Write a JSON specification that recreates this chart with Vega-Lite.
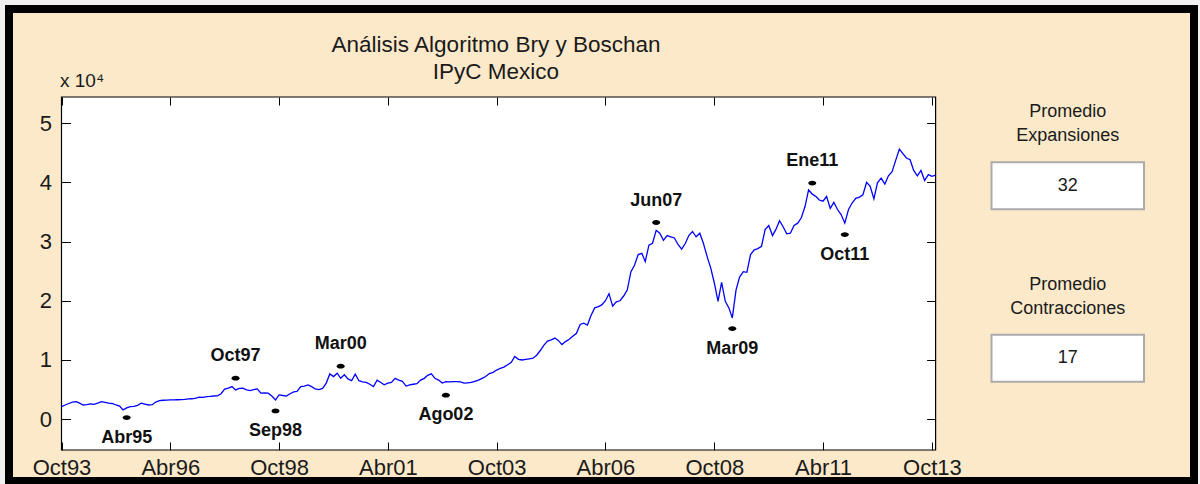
{
  "$schema": "https://vega.github.io/schema/vega-lite/v6.json",
  "width": 1185,
  "height": 472,
  "autosize": {"type": "none"},
  "padding": {"left": 9, "top": 9, "right": 6, "bottom": 3},
  "background": "#F0F0F0",
  "config": {
    "view": {"fill": "#FBE9CA", "stroke": "#000000", "strokeWidth": 8},
    "font": "Liberation Sans"
  },
  "title": {
    "text": ["Análisis Algoritmo Bry y Boschan", "IPyC Mexico"],
    "anchor": "middle",
    "frame": "group",
    "dx": -105.5,
    "dy": 74,
    "offset": 0,
    "baseline": "top",
    "font": "Liberation Sans",
    "fontSize": 22.5,
    "fontWeight": "normal",
    "color": "#1A1A1A",
    "lineHeight": 27
  },
  "datasets": {
    "ipc": [
      {"fecha":"1993-10","ipc":2130},{"fecha":"1993-11","ipc":2400},{"fecha":"1993-12","ipc":2650},
      {"fecha":"1994-01","ipc":2900},{"fecha":"1994-02","ipc":2970},{"fecha":"1994-03","ipc":2700},{"fecha":"1994-04","ipc":2400},{"fecha":"1994-05","ipc":2450},{"fecha":"1994-06","ipc":2580},{"fecha":"1994-07","ipc":2500},{"fecha":"1994-08","ipc":2700},{"fecha":"1994-09","ipc":2970},{"fecha":"1994-10","ipc":2850},{"fecha":"1994-11","ipc":2700},{"fecha":"1994-12","ipc":2650},
      {"fecha":"1995-01","ipc":2400},{"fecha":"1995-02","ipc":2200},{"fecha":"1995-03","ipc":1570},{"fecha":"1995-04","ipc":1900},{"fecha":"1995-05","ipc":2130},{"fecha":"1995-06","ipc":2150},{"fecha":"1995-07","ipc":2350},{"fecha":"1995-08","ipc":2700},{"fecha":"1995-09","ipc":2550},{"fecha":"1995-10","ipc":2400},{"fecha":"1995-11","ipc":2450},{"fecha":"1995-12","ipc":2900},
      {"fecha":"1996-01","ipc":3140},{"fecha":"1996-02","ipc":3200},{"fecha":"1996-03","ipc":3220},{"fecha":"1996-04","ipc":3250},{"fecha":"1996-05","ipc":3260},{"fecha":"1996-06","ipc":3280},{"fecha":"1996-07","ipc":3300},{"fecha":"1996-08","ipc":3350},{"fecha":"1996-09","ipc":3430},{"fecha":"1996-10","ipc":3450},{"fecha":"1996-11","ipc":3550},{"fecha":"1996-12","ipc":3720},
      {"fecha":"1997-01","ipc":3700},{"fecha":"1997-02","ipc":3800},{"fecha":"1997-03","ipc":3850},{"fecha":"1997-04","ipc":3920},{"fecha":"1997-05","ipc":3940},{"fecha":"1997-06","ipc":4300},{"fecha":"1997-07","ipc":5100},{"fecha":"1997-08","ipc":5240},{"fecha":"1997-09","ipc":5510},{"fecha":"1997-10","ipc":4950},{"fecha":"1997-11","ipc":5200},{"fecha":"1997-12","ipc":5240},
      {"fecha":"1998-01","ipc":4950},{"fecha":"1998-02","ipc":4830},{"fecha":"1998-03","ipc":5000},{"fecha":"1998-04","ipc":5120},{"fecha":"1998-05","ipc":4400},{"fecha":"1998-06","ipc":4450},{"fecha":"1998-07","ipc":4400},{"fecha":"1998-08","ipc":3900},{"fecha":"1998-09","ipc":3260},{"fecha":"1998-10","ipc":4100},{"fecha":"1998-11","ipc":4000},{"fecha":"1998-12","ipc":3900},
      {"fecha":"1999-01","ipc":4300},{"fecha":"1999-02","ipc":4600},{"fecha":"1999-03","ipc":4700},{"fecha":"1999-04","ipc":5500},{"fecha":"1999-05","ipc":5600},{"fecha":"1999-06","ipc":5800},{"fecha":"1999-07","ipc":5500},{"fecha":"1999-08","ipc":5100},{"fecha":"1999-09","ipc":5000},{"fecha":"1999-10","ipc":5200},{"fecha":"1999-11","ipc":6100},{"fecha":"1999-12","ipc":7650},
      {"fecha":"2000-01","ipc":7200},{"fecha":"2000-02","ipc":7770},{"fecha":"2000-03","ipc":6900},{"fecha":"2000-04","ipc":7500},{"fecha":"2000-05","ipc":6800},{"fecha":"2000-06","ipc":6500},{"fecha":"2000-07","ipc":7600},{"fecha":"2000-08","ipc":6500},{"fecha":"2000-09","ipc":6300},{"fecha":"2000-10","ipc":6200},{"fecha":"2000-11","ipc":5900},{"fecha":"2000-12","ipc":5500},
      {"fecha":"2001-01","ipc":6600},{"fecha":"2001-02","ipc":6200},{"fecha":"2001-03","ipc":5800},{"fecha":"2001-04","ipc":6100},{"fecha":"2001-05","ipc":6200},{"fecha":"2001-06","ipc":6900},{"fecha":"2001-07","ipc":6600},{"fecha":"2001-08","ipc":6400},{"fecha":"2001-09","ipc":5600},{"fecha":"2001-10","ipc":5800},{"fecha":"2001-11","ipc":5900},{"fecha":"2001-12","ipc":6000},
      {"fecha":"2002-01","ipc":6600},{"fecha":"2002-02","ipc":6900},{"fecha":"2002-03","ipc":7400},{"fecha":"2002-04","ipc":7650},{"fecha":"2002-05","ipc":6900},{"fecha":"2002-06","ipc":6600},{"fecha":"2002-07","ipc":6100},{"fecha":"2002-08","ipc":6350},{"fecha":"2002-09","ipc":6300},{"fecha":"2002-10","ipc":6350},{"fecha":"2002-11","ipc":6350},{"fecha":"2002-12","ipc":6300},
      {"fecha":"2003-01","ipc":6100},{"fecha":"2003-02","ipc":6150},{"fecha":"2003-03","ipc":6200},{"fecha":"2003-04","ipc":6400},{"fecha":"2003-05","ipc":6600},{"fecha":"2003-06","ipc":6900},{"fecha":"2003-07","ipc":7200},{"fecha":"2003-08","ipc":7700},{"fecha":"2003-09","ipc":7900},{"fecha":"2003-10","ipc":8300},{"fecha":"2003-11","ipc":8600},{"fecha":"2003-12","ipc":8800},
      {"fecha":"2004-01","ipc":9200},{"fecha":"2004-02","ipc":9600},{"fecha":"2004-03","ipc":10600},{"fecha":"2004-04","ipc":10100},{"fecha":"2004-05","ipc":10000},{"fecha":"2004-06","ipc":10100},{"fecha":"2004-07","ipc":10200},{"fecha":"2004-08","ipc":10300},{"fecha":"2004-09","ipc":10800},{"fecha":"2004-10","ipc":11600},{"fecha":"2004-11","ipc":12500},{"fecha":"2004-12","ipc":13200},
      {"fecha":"2005-01","ipc":13400},{"fecha":"2005-02","ipc":13700},{"fecha":"2005-03","ipc":13300},{"fecha":"2005-04","ipc":12600},{"fecha":"2005-05","ipc":13100},{"fecha":"2005-06","ipc":13500},{"fecha":"2005-07","ipc":14000},{"fecha":"2005-08","ipc":14500},{"fecha":"2005-09","ipc":16000},{"fecha":"2005-10","ipc":16200},{"fecha":"2005-11","ipc":15900},{"fecha":"2005-12","ipc":17500},
      {"fecha":"2006-01","ipc":18800},{"fecha":"2006-02","ipc":19000},{"fecha":"2006-03","ipc":19300},{"fecha":"2006-04","ipc":20000},{"fecha":"2006-05","ipc":21200},{"fecha":"2006-06","ipc":19100},{"fecha":"2006-07","ipc":19800},{"fecha":"2006-08","ipc":20000},{"fecha":"2006-09","ipc":20800},{"fecha":"2006-10","ipc":21800},{"fecha":"2006-11","ipc":24900},{"fecha":"2006-12","ipc":26000},
      {"fecha":"2007-01","ipc":27800},{"fecha":"2007-02","ipc":28000},{"fecha":"2007-03","ipc":26600},{"fecha":"2007-04","ipc":29400},{"fecha":"2007-05","ipc":29700},{"fecha":"2007-06","ipc":31900},{"fecha":"2007-07","ipc":31400},{"fecha":"2007-08","ipc":30200},{"fecha":"2007-09","ipc":31000},{"fecha":"2007-10","ipc":30800},{"fecha":"2007-11","ipc":30600},{"fecha":"2007-12","ipc":29500},
      {"fecha":"2008-01","ipc":28700},{"fecha":"2008-02","ipc":29700},{"fecha":"2008-03","ipc":31000},{"fecha":"2008-04","ipc":31700},{"fecha":"2008-05","ipc":30800},{"fecha":"2008-06","ipc":31400},{"fecha":"2008-07","ipc":29700},{"fecha":"2008-08","ipc":27500},{"fecha":"2008-09","ipc":25500},{"fecha":"2008-10","ipc":23000},{"fecha":"2008-11","ipc":19900},{"fecha":"2008-12","ipc":23100},
      {"fecha":"2009-01","ipc":19900},{"fecha":"2009-02","ipc":18750},{"fecha":"2009-03","ipc":17100},{"fecha":"2009-04","ipc":21800},{"fecha":"2009-05","ipc":24000},{"fecha":"2009-06","ipc":24900},{"fecha":"2009-07","ipc":24800},{"fecha":"2009-08","ipc":27800},{"fecha":"2009-09","ipc":28600},{"fecha":"2009-10","ipc":28800},{"fecha":"2009-11","ipc":29200},{"fecha":"2009-12","ipc":32000},
      {"fecha":"2010-01","ipc":32700},{"fecha":"2010-02","ipc":31000},{"fecha":"2010-03","ipc":32000},{"fecha":"2010-04","ipc":33500},{"fecha":"2010-05","ipc":32500},{"fecha":"2010-06","ipc":31300},{"fecha":"2010-07","ipc":31400},{"fecha":"2010-08","ipc":32700},{"fecha":"2010-09","ipc":33100},{"fecha":"2010-10","ipc":34000},{"fecha":"2010-11","ipc":35900},{"fecha":"2010-12","ipc":38700},
      {"fecha":"2011-01","ipc":38000},{"fecha":"2011-02","ipc":37600},{"fecha":"2011-03","ipc":37000},{"fecha":"2011-04","ipc":36800},{"fecha":"2011-05","ipc":37600},{"fecha":"2011-06","ipc":35600},{"fecha":"2011-07","ipc":36600},{"fecha":"2011-08","ipc":35400},{"fecha":"2011-09","ipc":34500},{"fecha":"2011-10","ipc":33100},{"fecha":"2011-11","ipc":35400},{"fecha":"2011-12","ipc":36500},
      {"fecha":"2012-01","ipc":37300},{"fecha":"2012-02","ipc":37500},{"fecha":"2012-03","ipc":37900},{"fecha":"2012-04","ipc":40000},{"fecha":"2012-05","ipc":39300},{"fecha":"2012-06","ipc":37200},{"fecha":"2012-07","ipc":39900},{"fecha":"2012-08","ipc":40700},{"fecha":"2012-09","ipc":39700},{"fecha":"2012-10","ipc":41100},{"fecha":"2012-11","ipc":41800},{"fecha":"2012-12","ipc":43700},
      {"fecha":"2013-01","ipc":45600},{"fecha":"2013-02","ipc":44800},{"fecha":"2013-03","ipc":44100},{"fecha":"2013-04","ipc":43800},{"fecha":"2013-05","ipc":42000},{"fecha":"2013-06","ipc":41100},{"fecha":"2013-07","ipc":42000},{"fecha":"2013-08","ipc":40300},{"fecha":"2013-09","ipc":41300},{"fecha":"2013-10","ipc":41000},{"fecha":"2013-11","ipc":41200}
    ],
    "puntos": [
      {"fecha":"1995-04","etiqueta":"Abr95","tipo":"valle","y":270},
      {"fecha":"1997-10","etiqueta":"Oct97","tipo":"pico","y":6930},
      {"fecha":"1998-09","etiqueta":"Sep98","tipo":"valle","y":1400},
      {"fecha":"2000-03","etiqueta":"Mar00","tipo":"pico","y":8950},
      {"fecha":"2002-08","etiqueta":"Ago02","tipo":"valle","y":4050},
      {"fecha":"2007-06","etiqueta":"Jun07","tipo":"pico","y":33210},
      {"fecha":"2009-03","etiqueta":"Mar09","tipo":"valle","y":15300},
      {"fecha":"2011-01","etiqueta":"Ene11","tipo":"pico","y":39860},
      {"fecha":"2011-10","etiqueta":"Oct11","tipo":"valle","y":31180}
    ],
    "panel": [
      {"titulo":"Promedio Expansiones","valor":"32","orden":1},
      {"titulo":"Promedio Contracciones","valor":"17","orden":2}
    ]
  },
  "layer": [
    {
      "layer": [
        {
          "data": {"values": [{}]},
          "mark": {"type": "rect", "fill": "#FFFFFF", "stroke": "#000000", "strokeWidth": 1.2},
          "encoding": {
            "x": {"datum": {"year": 1993, "month": 10, "date": 1, "utc": true}, "type": "temporal",
                  "scale": {"type": "utc", "domain": [{"year": 1993, "month": 10, "date": 1, "utc": true}, {"year": 2013, "month": 11, "date": 1, "utc": true}], "range": [52.5, 926.6]}, "axis": null},
            "x2": {"datum": {"year": 2013, "month": 11, "date": 1, "utc": true}},
            "y": {"datum": -5200, "type": "quantitative", "scale": {"domain": [-5200, 54400], "range": [441, 88], "nice": false, "zero": false}, "axis": null},
            "y2": {"datum": 54400}
          }
        },
        {
          "data": {"name": "ipc"},
          "mark": {"type": "line", "color": "#0000FF", "strokeWidth": 1.3},
          "encoding": {
            "x": {"field": "fecha", "type": "temporal",
                  "scale": {"type": "utc", "domain": [{"year": 1993, "month": 10, "date": 1, "utc": true}, {"year": 2013, "month": 11, "date": 1, "utc": true}], "range": [52.5, 926.6]},
                  "axis": {"orient": "bottom", "offset": -31, "title": null, "grid": false, "domain": false, "zindex": 2,
                           "values": [{"year":1993,"month":10,"date":1,"utc":true},{"year":1996,"month":4,"date":1,"utc":true},{"year":1998,"month":10,"date":1,"utc":true},{"year":2001,"month":4,"date":1,"utc":true},{"year":2003,"month":10,"date":1,"utc":true},{"year":2006,"month":4,"date":1,"utc":true},{"year":2008,"month":10,"date":1,"utc":true},{"year":2011,"month":4,"date":1,"utc":true},{"year":2013,"month":10,"date":1,"utc":true}],
                           "labelExpr": "(utcFormat(datum.value, '%m') == '10' ? 'Oct' : 'Abr') + utcFormat(datum.value, '%y')",
                           "tickSize": -8, "tickColor": "#000000", "tickWidth": 1,
                           "labelFont": "Liberation Sans", "labelFontSize": 22, "labelColor": "#1A1A1A", "labelPadding": 15,
                           "labelFlush": false, "labelOverlap": false}},
            "y": {"field": "ipc", "type": "quantitative",
                  "scale": {"domain": [-5200, 54400], "range": [441, 88], "nice": false, "zero": false},
                  "axis": {"orient": "left", "offset": -52.5, "grid": false, "domain": false, "zindex": 2,
                           "values": [0, 10000, 20000, 30000, 40000, 50000],
                           "labelExpr": "format(datum.value / 10000, 'd')",
                           "tickSize": -9, "tickColor": "#000000", "tickWidth": 1,
                           "labelFont": "Liberation Sans", "labelFontSize": 22, "labelColor": "#1A1A1A", "labelPadding": 19,
                           "title": "x 10⁴", "titleAngle": 0, "titleAlign": "left", "titleBaseline": "alphabetic",
                           "titleX": -2, "titleY": 77, "titleFont": "Liberation Sans", "titleFontSize": 19,
                           "titleFontWeight": "normal", "titleColor": "#1A1A1A"}}
          }
        },
        {
          "data": {"name": "puntos"},
          "mark": {"type": "point", "filled": true, "color": "#000000", "opacity": 1, "size": 64,
                   "shape": "M-1,0A1,0.6,0,1,0,1,0A1,0.6,0,1,0,-1,0Z"},
          "encoding": {
            "x": {"field": "fecha", "type": "temporal",
                  "scale": {"type": "utc", "domain": [{"year": 1993, "month": 10, "date": 1, "utc": true}, {"year": 2013, "month": 11, "date": 1, "utc": true}], "range": [52.5, 926.6]},
                  "axis": {"orient": "top", "offset": -88, "title": null, "grid": false, "domain": false, "labels": false, "zindex": 2,
                           "values": [{"year":1993,"month":10,"date":1,"utc":true},{"year":1996,"month":4,"date":1,"utc":true},{"year":1998,"month":10,"date":1,"utc":true},{"year":2001,"month":4,"date":1,"utc":true},{"year":2003,"month":10,"date":1,"utc":true},{"year":2006,"month":4,"date":1,"utc":true},{"year":2008,"month":10,"date":1,"utc":true},{"year":2011,"month":4,"date":1,"utc":true},{"year":2013,"month":10,"date":1,"utc":true}],
                           "tickSize": -8, "tickColor": "#000000", "tickWidth": 1}},
            "y": {"field": "y", "type": "quantitative",
                  "scale": {"domain": [-5200, 54400], "range": [441, 88], "nice": false, "zero": false},
                  "axis": {"orient": "right", "offset": -258.4, "title": null, "grid": false, "domain": false, "labels": false, "zindex": 2,
                           "values": [0, 10000, 20000, 30000, 40000, 50000],
                           "tickSize": -9, "tickColor": "#000000", "tickWidth": 1}}
          }
        },
        {
          "data": {"name": "puntos"},
          "transform": [{"filter": "datum.tipo == 'pico'"}],
          "mark": {"type": "text", "font": "Liberation Sans", "fontSize": 18, "fontWeight": "bold", "color": "#111111", "baseline": "middle", "align": "center", "dy": -22},
          "encoding": {
            "x": {"field": "fecha", "type": "temporal",
                  "scale": {"type": "utc", "domain": [{"year": 1993, "month": 10, "date": 1, "utc": true}, {"year": 2013, "month": 11, "date": 1, "utc": true}], "range": [52.5, 926.6]}, "axis": null},
            "y": {"field": "y", "type": "quantitative", "scale": {"domain": [-5200, 54400], "range": [441, 88], "nice": false, "zero": false}, "axis": null},
            "text": {"field": "etiqueta"}
          }
        },
        {
          "data": {"name": "puntos"},
          "transform": [{"filter": "datum.tipo == 'valle'"}],
          "mark": {"type": "text", "font": "Liberation Sans", "fontSize": 18, "fontWeight": "bold", "color": "#111111", "baseline": "middle", "align": "center", "dy": 20},
          "encoding": {
            "x": {"field": "fecha", "type": "temporal",
                  "scale": {"type": "utc", "domain": [{"year": 1993, "month": 10, "date": 1, "utc": true}, {"year": 2013, "month": 11, "date": 1, "utc": true}], "range": [52.5, 926.6]}, "axis": null},
            "y": {"field": "y", "type": "quantitative", "scale": {"domain": [-5200, 54400], "range": [441, 88], "nice": false, "zero": false}, "axis": null},
            "text": {"field": "etiqueta"}
          }
        }
      ],
      "resolve": {"axis": {"x": "independent", "y": "independent"}}
    },
    {
      "data": {"name": "panel"},
      "layer": [
        {
          "mark": {"type": "rect", "fill": "#FFFFFF", "stroke": "#ABABAB", "strokeWidth": 2, "yOffset": -23.5, "y2Offset": 23.5},
          "encoding": {
            "x": {"datum": 0, "type": "quantitative", "scale": {"domain": [0, 1], "range": [982.5, 1135]}, "axis": null},
            "x2": {"datum": 1},
            "y": {"field": "orden", "type": "quantitative", "scale": {"domain": [1, 2], "range": [176.7, 349.3], "zero": false, "nice": false}, "axis": null},
            "y2": {"field": "orden"}
          }
        },
        {
          "mark": {"type": "text", "font": "Liberation Sans", "fontSize": 18, "color": "#1A1A1A", "align": "center", "baseline": "middle", "lineBreak": " ", "lineHeight": 24, "dy": -73.5},
          "encoding": {
            "x": {"datum": 0.5, "type": "quantitative", "scale": {"domain": [0, 1], "range": [982.5, 1135]}, "axis": null},
            "y": {"field": "orden", "type": "quantitative", "scale": {"domain": [1, 2], "range": [176.7, 349.3], "zero": false, "nice": false}, "axis": null},
            "text": {"field": "titulo"}
          }
        },
        {
          "mark": {"type": "text", "font": "Liberation Sans", "fontSize": 18, "color": "#1A1A1A", "align": "center", "baseline": "middle"},
          "encoding": {
            "x": {"datum": 0.5, "type": "quantitative", "scale": {"domain": [0, 1], "range": [982.5, 1135]}, "axis": null},
            "y": {"field": "orden", "type": "quantitative", "scale": {"domain": [1, 2], "range": [176.7, 349.3], "zero": false, "nice": false}, "axis": null},
            "text": {"field": "valor"}
          }
        }
      ]
    }
  ],
  "resolve": {"scale": {"x": "independent", "y": "independent"}, "axis": {"x": "independent", "y": "independent"}}
}
